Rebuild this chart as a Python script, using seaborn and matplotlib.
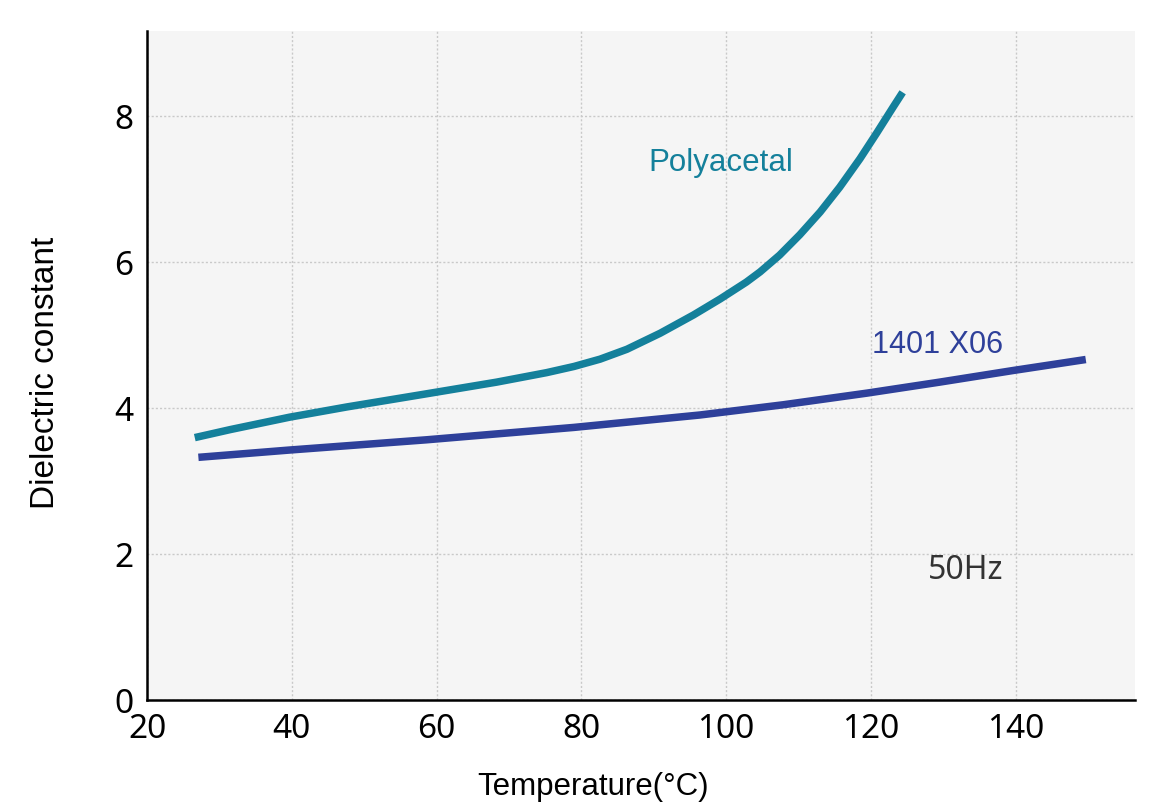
import matplotlib
matplotlib.use("Agg")
import matplotlib.pyplot as plt
import seaborn as sns
import pandas as pd

# ---- data ----
poly_temp = [26.6, 31.5, 39.7, 47.6, 58.6, 68.3, 75.2, 79.0, 82.6, 86.3, 90.9,
             95.5, 99.2, 102.8, 104.7, 107.4, 110.2, 113.0, 115.7, 118.5,
             120.8, 123.1, 124.4]
poly_eps = [3.59, 3.70, 3.87, 4.01, 4.19, 4.35, 4.48, 4.565, 4.665, 4.80, 5.02,
            5.27, 5.49, 5.72, 5.86, 6.09, 6.37, 6.68, 7.02, 7.41,
            7.76, 8.12, 8.32]

x06_temp = [27.1, 39.7, 58.6, 79.0, 96.4, 107.9, 119.5, 129.5, 139.7, 149.7]
x06_eps = [3.32, 3.42, 3.56, 3.73, 3.90, 4.04, 4.20, 4.35, 4.51, 4.66]

x_ticks = [20, 40, 60, 80, 100, 120, 140]
y_ticks = [0, 2, 4, 6, 8]
series_names = ["Polyacetal", "1401 X06"]
x_label = "Temperature(°C)"
y_label = "Dielectric constant"
freq_note = "50Hz"

POLY_C = "#14809b"
X06_C = "#2e409a"

sns.set_theme(style="white")
plt.rcParams["font.family"] = ["Liberation Sans", "DejaVu Sans"]

fig = plt.figure(figsize=(11.6, 8.12), dpi=100)
ax = fig.add_axes([147 / 1160, (812 - 700.7) / 812, 988 / 1160, 669 / 812])
ax.set_facecolor("#f5f5f5")

df_poly = pd.DataFrame({"t": poly_temp, "e": poly_eps})
df_x06 = pd.DataFrame({"t": x06_temp, "e": x06_eps})
sns.lineplot(data=df_poly, x="t", y="e", ax=ax, color=POLY_C, linewidth=5.4,
             sort=False, estimator=None, solid_capstyle="butt",
             solid_joinstyle="round")
sns.lineplot(data=df_x06, x="t", y="e", ax=ax, color=X06_C, linewidth=5.4,
             sort=False, estimator=None, solid_capstyle="butt",
             solid_joinstyle="round")

ax.set_xlim(20, 156.5)
ax.set_ylim(0, 9.164)
ax.set_xticks(x_ticks)
ax.set_yticks(y_ticks)
ax.set_xticklabels([str(v) for v in x_ticks], family=["Noto Sans", "DejaVu Sans"], fontsize=24)
ax.set_yticklabels([str(v) for v in y_ticks], family=["Noto Sans", "DejaVu Sans"], fontsize=24)
ax.tick_params(axis="both", length=0, colors="black")
ax.tick_params(axis="y", pad=10)
ax.tick_params(axis="x", pad=9)

ax.grid(True, color="#c9c9c9", linewidth=1.0, linestyle=(0, (1.5, 1.5)))
ax.set_axisbelow(True)
for s in ["top", "right"]:
    ax.spines[s].set_visible(False)
for s in ["left", "bottom"]:
    ax.spines[s].set_visible(True)
    ax.spines[s].set_color("black")
    ax.spines[s].set_linewidth(1.8)

ax.set_xlabel("")
ax.set_ylabel("")

ax.text(99.25, 7.26, series_names[0], color=POLY_C, fontsize=22.5,
        ha="center", va="baseline")
ax.text(129.2, 4.76, series_names[1], color=X06_C, fontsize=22,
        ha="center", va="baseline")
ax.text(133.1, 1.667, freq_note, color="#333333", fontsize=23,
        family=["Noto Sans", "DejaVu Sans"], ha="center", va="baseline")

fig.text(46 / 1160, 1 - 372.5 / 812, y_label, rotation=90, fontsize=24,
         ha="center", va="center", color="black")
fig.text(593 / 1160, 1 - 787 / 812, x_label, fontsize=22.5,
         ha="center", va="center", color="black")

fig.savefig("out.png", dpi=100)
